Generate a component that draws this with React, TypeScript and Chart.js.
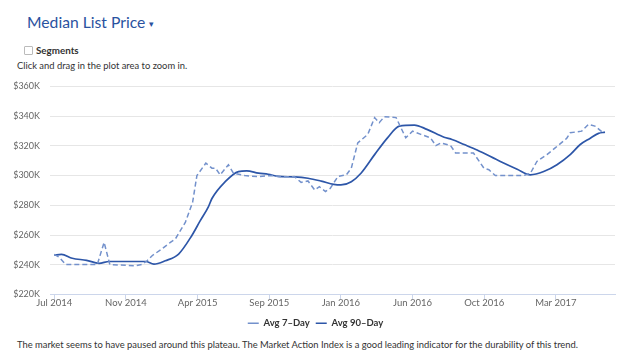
import React, { useEffect, useRef } from "react";
import { Chart, registerables } from "chart.js";

Chart.register(...registerables);

// Tick labels on the x axis (one every 20 weeks, starting Jul 2014)
const tickWeeks = [0, 20, 40, 60, 80, 100, 120, 140];
const tickLabels = ["Jul 2014", "Nov 2014", "Apr 2015", "Sep 2015", "Jan 2016", "Jun 2016", "Oct 2016", "Mar 2017"];

// Avg 7-Day (weeks since Jul 2014, value in $K)
const weeks7 = [0, 1.4, 3.2, 12, 13.9, 15.5, 22.7, 24.5, 25.9, 27.3, 30, 32.4, 33.8, 36.6, 38.6, 39.8, 42.3, 44, 45, 46.3, 48.6, 50, 53.2, 57, 60.6, 63.4, 67, 68.9, 70.8, 72.7, 74, 75.7, 77, 79.2, 81.5, 82.9, 84.7, 87.5, 89.4, 90.7, 92.1, 95.4, 98.1, 100, 102.3, 105, 106.5, 107.9, 110.6, 112, 117, 119.9, 121.3, 123.1, 131, 132.9, 134.7, 137.5, 139.8, 143, 144, 147.2, 149.1, 150.9, 153.2];
const vals7 = [247, 245, 240.2, 240.2, 255.1, 240.2, 239.3, 240.2, 242.7, 246.1, 250.6, 255.1, 257.4, 268.7, 282, 300, 308.4, 305, 305, 300.5, 307.3, 301.6, 300, 299.3, 300, 299.1, 299.3, 295.4, 296.4, 290.3, 292.5, 289.3, 291.4, 299.5, 300.5, 305, 322, 327.7, 339, 335.6, 339.6, 339, 325.4, 329.9, 327.7, 325.4, 320.2, 322, 320.2, 315.2, 315.2, 305, 303.9, 300, 300, 301.6, 309.5, 314.1, 318.6, 325, 328.8, 329.9, 334.5, 333.3, 328.8];

// Avg 90-Day
const weeks90 = [0, 2, 5, 9, 12.5, 15.3, 25.5, 27.8, 31, 34.7, 38.4, 40.7, 43, 44, 47.7, 51.4, 53.7, 57, 59.7, 62.5, 67, 70.8, 74.5, 78, 80, 82.9, 85.6, 89.4, 93, 96.3, 100.5, 104, 108.8, 111, 114.4, 118, 124.5, 129.2, 132.9, 136.6, 140.3, 144, 146.8, 149.5, 151.9, 153.7];
const vals90 = [246.5, 247, 244.4, 243, 241, 242.2, 242.2, 240.4, 242.7, 247.2, 259.7, 269.5, 279, 284.6, 295.9, 302.7, 303.2, 301.6, 300.9, 299.5, 299.1, 298.2, 296.3, 294.1, 293.7, 295.9, 301.6, 314.1, 325.4, 333.3, 334, 331.1, 325.8, 324.3, 320.9, 317.2, 309.5, 304.3, 300.5, 302.7, 307.3, 314.1, 320.9, 325, 328.4, 329.2];

const FONT = "Lato, 'Open Sans', sans-serif";

// nudges the legend so that it is centred under the page like the original
const legendShift = {
  id: "legendShift",
  afterLayout(chart: any) {
    if (chart.legend) {
      chart.legend.left += 8;
      chart.legend.right += 8;
    }
  },
};

export default function App() {
  const ref = useRef<HTMLCanvasElement>(null);

  useEffect(() => {
    if (!ref.current) return;
    const chart = new Chart(ref.current, {
      type: "line",
      data: {
        datasets: [
          {
            label: "Avg 7–Day",
            data: weeks7.map((w, i) => ({ x: w, y: vals7[i] })),
            borderColor: "#7391cc",
            backgroundColor: "#7391cc",
            borderWidth: 1.5,
            borderDash: [5, 3],
            pointRadius: 0,
            tension: 0,
          },
          {
            label: "Avg 90–Day",
            data: weeks90.map((w, i) => ({ x: w, y: vals90[i] })),
            borderColor: "#2d56a8",
            backgroundColor: "#2d56a8",
            borderWidth: 1.7,
            pointRadius: 0,
            cubicInterpolationMode: "monotone",
          },
        ],
      },
      plugins: [legendShift],
      options: {
        responsive: false,
        animation: false,
        layout: { padding: { top: 8, right: 23, left: 0, bottom: 0 } },
        plugins: {
          tooltip: { enabled: false },
          legend: {
            position: "bottom",
            labels: {
              usePointStyle: true,
              pointStyle: "line",
              pointStyleWidth: 11,
              boxWidth: 11,
              color: "#333",
              font: { family: FONT, size: 9.5, weight: "bold" },
              padding: 6,
            },
          },
        },
        scales: {
          x: {
            type: "linear",
            min: -1.2,
            max: 156.5,
            afterBuildTicks: (s: any) => {
              s.ticks = tickWeeks.map((v) => ({ value: v }));
            },
            afterFit: (s: any) => {
              s.height = 18;
            },
            grid: { display: true, drawOnChartArea: false, drawTicks: true, tickLength: 5, color: "#ccd6eb" },
            border: { display: true, color: "#ccd6eb", width: 1 },
            ticks: {
              autoSkip: false,
              maxRotation: 0,
              padding: -2,
              color: "#666",
              font: { family: FONT, size: 9.5 },
              callback: (v: any) => {
                const i = tickWeeks.indexOf(Number(v));
                return i >= 0 ? tickLabels[i] : "";
              },
            },
          },
          y: {
            min: 220,
            max: 360,
            afterFit: (s: any) => {
              s.width = 50;
            },
            grid: { color: "#e6e6e6", drawTicks: false },
            border: { display: false },
            ticks: {
              stepSize: 20,
              padding: 10,
              color: "#666",
              font: { family: FONT, size: 9 },
              callback: (v: any) => "$" + v + "K",
            },
          },
        },
      },
    } as any);
    return () => chart.destroy();
  }, []);

  return (
    <div style={{ position: "absolute", left: 0, top: 0, width: 638, height: 360, background: "#fff", fontFamily: FONT, color: "#333" }}>
      <div style={{ position: "absolute", left: 27, top: 10, fontSize: 15.7, color: "#2a52a0", lineHeight: "24px", whiteSpace: "nowrap" }}>
        Median List Price <span style={{ fontSize: 9, verticalAlign: "middle" }}>▾</span>
      </div>
      <div style={{ position: "absolute", left: 24, top: 43, fontSize: 9.8, fontWeight: "bold", lineHeight: "14px", whiteSpace: "nowrap" }}>
        <span style={{ display: "inline-block", width: 7, height: 7, border: "1px solid #bbb", borderRadius: 1, marginRight: 3, verticalAlign: "-1px" }} />
        Segments
      </div>
      <div style={{ position: "absolute", left: 17, top: 59, fontSize: 9.4, lineHeight: "14px", whiteSpace: "nowrap" }}>
        Click and drag in the plot area to zoom in.
      </div>
      <canvas ref={ref} width={638} height={267} style={{ position: "absolute", left: 0, top: 71, width: 638, height: 267 }} />
      <div style={{ position: "absolute", left: 17, top: 338, fontSize: 9.4, lineHeight: "14px", whiteSpace: "nowrap" }}>
        The market seems to have paused around this plateau. The Market Action Index is a good leading indicator for the durability of this trend.
      </div>
    </div>
  );
}
